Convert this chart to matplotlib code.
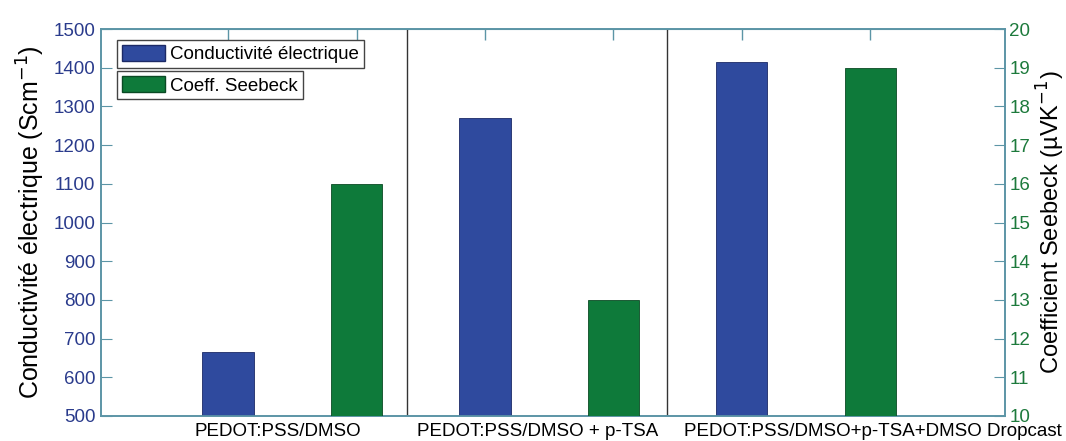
import numpy as np
import matplotlib
matplotlib.use('Agg')
import matplotlib.pyplot as plt
from matplotlib.patches import Patch

plt.rcParams['font.family'] = ['Liberation Sans', 'DejaVu Sans']

# data
samples = ["PEDOT:PSS/DMSO", "PEDOT:PSS/DMSO + p-TSA", "PEDOT:PSS/DMSO+p-TSA+DMSO Dropcast"]
conductivity = [665, 1270, 1415]   # S/cm
seebeck = [16.0, 13.0, 19.0]       # uV/K

# layout
blue_pos = [1, 3, 5]
green_pos = [2, 4, 6]
label_pos = [1.39, 3.41, 6.02]
dividers = [2.39, 4.42]
bar_w = 0.4
c_blue = '#2f4a9e'
c_green = '#0e7a3a'
c_axis = '#5c95a6'

fig = plt.figure(figsize=(10.66, 4.41), dpi=100)
ax = fig.add_axes([0.0947, 0.0567, 0.8481, 0.8775])
ax2 = ax.twinx()

ax.bar(blue_pos, conductivity, width=bar_w, color=c_blue, edgecolor='#1c2a66', linewidth=0.6, zorder=3)
ax2.bar(green_pos, seebeck, width=bar_w, color=c_green, edgecolor='#0a4a24', linewidth=0.6, zorder=3)

for d in dividers:
    ax.axvline(d, color='#333333', linewidth=1.0, zorder=2)

ax.set_xlim(0.01, 7.05)
ax.set_ylim(500, 1500)
ax2.set_ylim(10, 20)
ax.set_yticks(np.arange(500, 1501, 100))
ax2.set_yticks(np.arange(10, 21, 1))

ax.set_xticks(label_pos)
ax.set_xticklabels(samples, fontsize=13.5)
ax.tick_params(axis='x', length=0, pad=5)

top = ax.secondary_xaxis('top')
top.set_xticks([1, 2, 3, 4, 5, 6])
top.set_xticklabels([])
top.tick_params(direction='in', length=8, color=c_axis, width=1)
top.spines['top'].set_color(c_axis)

ax.tick_params(axis='y', direction='in', length=8, color=c_axis, labelcolor='#2a3b8c', labelsize=13.5, pad=4)
ax2.tick_params(axis='y', direction='in', length=8, color=c_axis, labelcolor='#1d7a3c', labelsize=13.5, pad=3)

for a in (ax, ax2):
    for s in a.spines.values():
        s.set_color(c_axis)
        s.set_linewidth(1.2)

ax.set_ylabel("Conductivité électrique (Scm$^{-1}$)", fontsize=18, labelpad=5)
ax2.set_ylabel("Coefficient Seebeck (µVK$^{-1}$)", fontsize=17, labelpad=3)

# two separate boxed legend entries
leg_kw = dict(loc='upper left', bbox_transform=fig.transFigure, borderaxespad=0,
              fancybox=False, edgecolor='#444444', framealpha=1, fontsize=13.5,
              handlelength=2.3, handleheight=1.0, handletextpad=0.3, borderpad=0.25)
leg1 = ax2.legend(handles=[Patch(facecolor=c_blue, edgecolor='#1c2a66')],
                  labels=["Conductivité électrique"], bbox_to_anchor=(0.1098, 0.9093), **leg_kw)
leg1.get_frame().set_linewidth(1.0)
ax2.add_artist(leg1)
leg2 = ax2.legend(handles=[Patch(facecolor=c_green, edgecolor='#0a4a24')],
                  labels=["Coeff. Seebeck"], bbox_to_anchor=(0.1098, 0.839), **leg_kw)
leg2.get_frame().set_linewidth(1.0)

fig.savefig('out.png', dpi=100)
